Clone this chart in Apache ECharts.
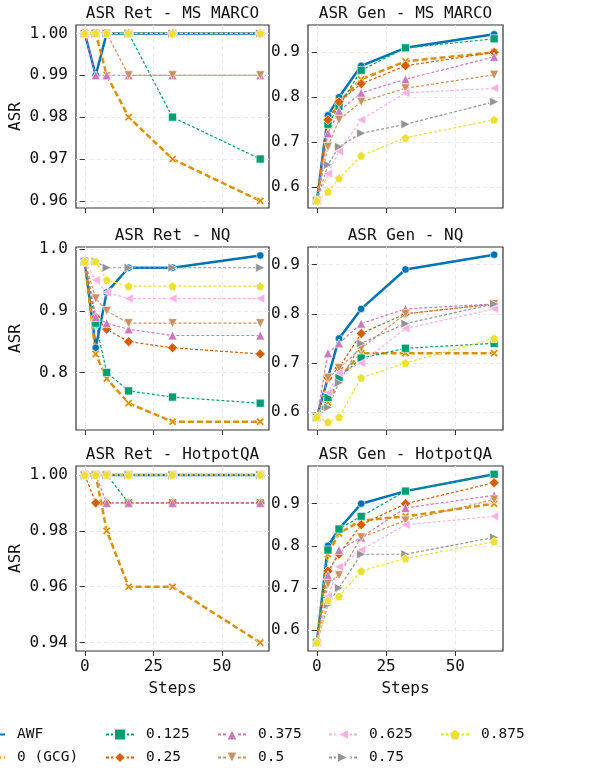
<!DOCTYPE html>
<html>
<head>
<meta charset="utf-8">
<script src="https://cdn.jsdelivr.net/npm/echarts@6/dist/echarts.min.js"></script>
<style>
  html, body { margin: 0; padding: 0; background: #fff; }
  #chart { width: 592px; height: 770px; }
</style>
</head>
<body>
<div id="chart"></div>
<script>
// x positions (attack steps)
const steps = [0, 4, 8, 16, 32, 64];
const methods = ['AWF', '0 (GCG)', '0.125', '0.25', '0.375', '0.5', '0.625', '0.75', '0.875'];

// one row per method, same order as methods
const retMsMarco = [
  [1.00, 0.99, 1.00, 1.00, 1.00, 1.00],
  [1.00, 1.00, 0.99, 0.98, 0.97, 0.96],
  [1.00, 1.00, 1.00, 1.00, 0.98, 0.97],
  [1.00, 1.00, 1.00, 1.00, 1.00, 1.00],
  [1.00, 0.99, 0.99, 0.99, 0.99, 0.99],
  [1.00, 1.00, 1.00, 0.99, 0.99, 0.99],
  [1.00, 1.00, 1.00, 1.00, 1.00, 1.00],
  [1.00, 1.00, 1.00, 1.00, 1.00, 1.00],
  [1.00, 1.00, 1.00, 1.00, 1.00, 1.00]
];
const genMsMarco = [
  [0.57, 0.76, 0.80, 0.87, 0.91, 0.94],
  [0.57, 0.74, 0.79, 0.84, 0.88, 0.90],
  [0.57, 0.74, 0.78, 0.86, 0.91, 0.93],
  [0.57, 0.75, 0.79, 0.83, 0.87, 0.90],
  [0.57, 0.72, 0.77, 0.81, 0.84, 0.89],
  [0.57, 0.69, 0.75, 0.79, 0.82, 0.85],
  [0.57, 0.63, 0.68, 0.75, 0.81, 0.82],
  [0.57, 0.65, 0.69, 0.72, 0.74, 0.79],
  [0.57, 0.59, 0.62, 0.67, 0.71, 0.75]
];
const retNq = [
  [0.98, 0.84, 0.93, 0.97, 0.97, 0.99],
  [0.98, 0.83, 0.79, 0.75, 0.72, 0.72],
  [0.98, 0.88, 0.80, 0.77, 0.76, 0.75],
  [0.98, 0.89, 0.87, 0.85, 0.84, 0.83],
  [0.98, 0.89, 0.88, 0.87, 0.86, 0.86],
  [0.98, 0.92, 0.90, 0.88, 0.88, 0.88],
  [0.98, 0.95, 0.93, 0.92, 0.92, 0.92],
  [0.98, 0.98, 0.97, 0.97, 0.97, 0.97],
  [0.98, 0.98, 0.95, 0.94, 0.94, 0.94]
];
const genNq = [
  [0.59, 0.67, 0.75, 0.81, 0.89, 0.92],
  [0.59, 0.62, 0.67, 0.72, 0.72, 0.72],
  [0.59, 0.63, 0.67, 0.71, 0.73, 0.74],
  [0.59, 0.67, 0.69, 0.76, 0.80, 0.82],
  [0.59, 0.72, 0.74, 0.78, 0.81, 0.82],
  [0.59, 0.67, 0.69, 0.73, 0.80, 0.82],
  [0.59, 0.64, 0.68, 0.70, 0.77, 0.81],
  [0.59, 0.61, 0.66, 0.74, 0.78, 0.82],
  [0.59, 0.58, 0.59, 0.67, 0.70, 0.75]
];
const retHotpot = [
  [1.00, 1.00, 1.00, 1.00, 1.00, 1.00],
  [1.00, 1.00, 0.98, 0.96, 0.96, 0.94],
  [1.00, 1.00, 1.00, 0.99, 0.99, 0.99],
  [1.00, 0.99, 0.99, 0.99, 0.99, 0.99],
  [1.00, 1.00, 0.99, 0.99, 0.99, 0.99],
  [1.00, 1.00, 1.00, 1.00, 1.00, 1.00],
  [1.00, 1.00, 1.00, 1.00, 1.00, 1.00],
  [1.00, 1.00, 1.00, 1.00, 1.00, 1.00],
  [1.00, 1.00, 1.00, 1.00, 1.00, 1.00]
];
const genHotpot = [
  [0.57, 0.80, 0.84, 0.90, 0.93, 0.97],
  [0.57, 0.78, 0.83, 0.86, 0.87, 0.90],
  [0.57, 0.79, 0.84, 0.87, 0.93, 0.97],
  [0.57, 0.74, 0.78, 0.85, 0.90, 0.95],
  [0.57, 0.73, 0.79, 0.82, 0.89, 0.92],
  [0.57, 0.71, 0.73, 0.82, 0.86, 0.91],
  [0.57, 0.68, 0.75, 0.79, 0.85, 0.87],
  [0.57, 0.66, 0.70, 0.78, 0.78, 0.82],
  [0.57, 0.67, 0.68, 0.74, 0.77, 0.81]
];

const panelTitles = ['ASR Ret - MS MARCO', 'ASR Gen - MS MARCO', 'ASR Ret - NQ', 'ASR Gen - NQ', 'ASR Ret - HotpotQA', 'ASR Gen - HotpotQA'];
const panelData = [retMsMarco, genMsMarco, retNq, genNq, retHotpot, genHotpot];
const yRanges = [[0.9583, 1.002], [0.554, 0.9607], [0.7065, 1.0037], [0.564, 0.9357], [0.937, 1.0032], [0.55, 0.9897]];
const yTicks = [
  [0.96, 0.97, 0.98, 0.99, 1.00],
  [0.6, 0.7, 0.8, 0.9],
  [0.8, 0.9, 1.0],
  [0.6, 0.7, 0.8, 0.9],
  [0.94, 0.96, 0.98, 1.00],
  [0.6, 0.7, 0.8, 0.9]
];
const yDecimals = [2, 1, 1, 1, 2, 1];
const xTicks = [0, 25, 50];

const colors = ['#0173b2', '#de8f05', '#029e73', '#d55e00', '#cc78bc', '#ca9161', '#fbafe4', '#949494', '#ece133'];
const X_MARK = 'path://M0,2 L2,0 L5,3 L8,0 L10,2 L7,5 L10,8 L8,10 L5,7 L2,10 L0,8 L3,5 Z';
const PENTA = 'path://M5,0 L10,3.6 L8.1,9.5 L1.9,9.5 L0,3.6 Z';
const looks = [
  { symbol: 'circle', rot: 0, size: 7.5, width: 2.5, type: 'solid' },
  { symbol: X_MARK, rot: 0, size: 8, width: 2.5, type: [6, 3] },
  { symbol: 'rect', rot: 0, size: 8, width: 1.2, type: [3, 2] },
  { symbol: 'diamond', rot: 0, size: 10, width: 1.2, type: [3, 2] },
  { symbol: 'triangle', rot: 0, size: 9, width: 1.2, type: [3, 2] },
  { symbol: 'triangle', rot: 180, size: 9, width: 1.2, type: [3, 2] },
  { symbol: 'triangle', rot: 90, size: 9, width: 1.2, type: [3, 2] },
  { symbol: 'triangle', rot: -90, size: 9, width: 1.2, type: [3, 2] },
  { symbol: PENTA, rot: 0, size: 8.5, width: 1.2, type: [3, 2] }
];

const FONT = 'DejaVu Sans Mono';
const grids = [
  { left: 76, top: 25, width: 193, height: 183 },
  { left: 308, top: 25, width: 195, height: 183 },
  { left: 76, top: 247, width: 193, height: 183 },
  { left: 308, top: 247, width: 195, height: 183 },
  { left: 76, top: 466, width: 193, height: 185 },
  { left: 308, top: 466, width: 195, height: 185 }
];

const chart = echarts.init(document.getElementById('chart'));

const option = {
  animation: false,
  backgroundColor: '#fff',
  title: grids.map((g, i) => ({
    text: panelTitles[i],
    left: g.left + g.width / 2,
    top: g.top - 19,
    textAlign: 'center',
    padding: 0,
    textStyle: { fontFamily: FONT, fontSize: 16, fontWeight: 'normal', color: '#111' }
  })),
  grid: grids.map(g => Object.assign({ show: true, borderColor: '#333', borderWidth: 1.2, containLabel: false }, g)),
  xAxis: grids.map((g, i) => ({
    type: 'value',
    gridIndex: i,
    min: -3.2,
    max: 67.2,
    name: i >= 4 ? 'Steps' : '',
    nameLocation: 'middle',
    nameGap: 30,
    nameTextStyle: { fontFamily: FONT, fontSize: 16, color: '#111' },
    axisLine: { show: false },
    axisTick: { show: true, length: 5, customValues: xTicks, lineStyle: { color: '#333' } },
    axisLabel: { show: i >= 4, customValues: xTicks, margin: 8, fontFamily: FONT, fontSize: 16, color: '#111' },
    splitLine: { show: true, lineStyle: { color: '#e4e4e4', type: [4, 3], width: 0.8 } }
  })),
  yAxis: grids.map((g, i) => ({
    type: 'value',
    gridIndex: i,
    min: yRanges[i][0],
    max: yRanges[i][1],
    name: i % 2 === 0 ? 'ASR' : '',
    nameLocation: 'middle',
    nameGap: 52,
    nameTextStyle: { fontFamily: FONT, fontSize: 16, color: '#111' },
    axisLine: { show: false },
    axisTick: { show: true, length: 5, customValues: yTicks[i], lineStyle: { color: '#333' } },
    axisLabel: {
      customValues: yTicks[i], margin: 8, fontFamily: FONT, fontSize: 16, color: '#111',
      formatter: v => v.toFixed(yDecimals[i])
    },
    splitLine: { show: true, lineStyle: { color: '#e4e4e4', type: [4, 3], width: 0.8 } }
  })),
  legend: [
    { names: ['AWF', '0 (GCG)'], left: -24 },
    { names: ['0.125', '0.25'], left: 105 },
    { names: ['0.375', '0.5'], left: 217 },
    { names: ['0.625', '0.75'], left: 328 },
    { names: ['0.875'], left: 440 }
  ].map(l => ({
    data: l.names,
    left: l.left,
    top: 727,
    orient: 'vertical',
    itemWidth: 28,
    itemHeight: 15,
    itemGap: 8,
    padding: 0,
    selectedMode: false,
    textStyle: { fontFamily: FONT, fontSize: 14.5, color: '#111', padding: [0, 0, 0, 7] }
  })),
  series: []
};

panelData.forEach((rows, p) => {
  rows.forEach((vals, m) => {
    const lk = looks[m];
    option.series.push({
      name: methods[m],
      type: 'line',
      xAxisIndex: p,
      yAxisIndex: p,
      data: steps.map((s, k) => [s, vals[k]]),
      symbol: lk.symbol,
      symbolSize: lk.size,
      symbolRotate: lk.rot,
      showAllSymbol: true,
      color: colors[m],
      lineStyle: { color: colors[m], width: lk.width, type: lk.type },
      itemStyle: { color: colors[m], borderColor: '#fff', borderWidth: 0.6 },
      emphasis: { disabled: true },
      clip: false
    });
  });
});

chart.setOption(option);
</script>
</body>
</html>
